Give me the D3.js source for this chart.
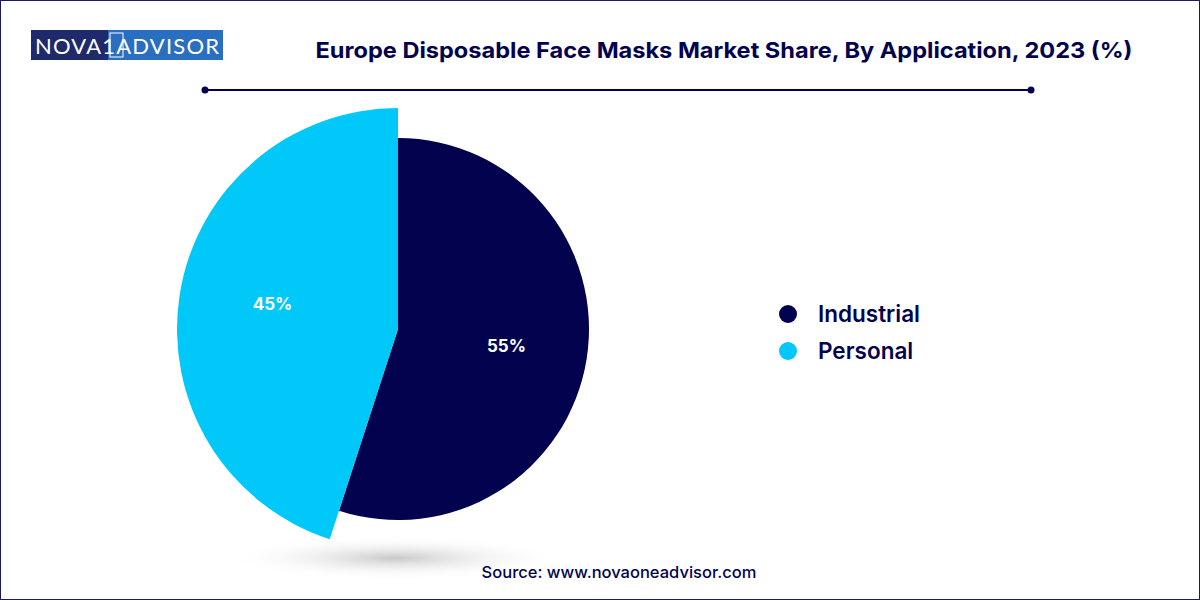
<!DOCTYPE html>
<html><head><meta charset="utf-8">
<script src="https://cdn.jsdelivr.net/npm/d3@7"></script>
<style>body{margin:0;background:#fff;font-family:Inter,"Open Sans",sans-serif}</style>
</head><body><svg id="chart"></svg>
<script>
const categories = ['Industrial', 'Personal'];
const shares = [55, 45];
const colors = ['#02024f', '#00c8f8'];

const svg = d3.select('#chart').attr('width', 1200).attr('height', 600);
svg.append('rect').attr('x', 0.5).attr('y', 0.5).attr('width', 1199).attr('height', 599)
  .attr('fill', '#fff').attr('stroke', '#1a1a5e');

// logo
const logo = svg.append('g').attr('transform', 'translate(31,30)');
logo.append('rect').attr('width', 77).attr('height', 30).attr('fill', '#1f2a6b');
logo.append('rect').attr('x', 77).attr('width', 115).attr('height', 30).attr('fill', '#2a6fbf');
logo.append('text').attr('x', 4).attr('y', 24).attr('fill', '#fff').attr('font-size', 22)
  .attr('font-family', 'Lato, sans-serif').attr('textLength', 184).text('NOVA1ADVISOR');
logo.append('rect').attr('x', 79).attr('y', 3).attr('width', 13).attr('height', 24).attr('fill', 'none').attr('stroke', '#fff').attr('stroke-width', 1);

// title
svg.append('text').attr('x', 724).attr('y', 58).attr('text-anchor', 'middle')
  .attr('font-size', 22).attr('font-weight', 700).attr('fill', '#02024f')
  .attr('textLength', 817).attr('lengthAdjust', 'spacingAndGlyphs')
  .text('Europe Disposable Face Masks Market Share, By Application, 2023 (%)');
svg.append('line').attr('x1', 205).attr('x2', 1031).attr('y1', 90).attr('y2', 90)
  .attr('stroke', '#02024f').attr('stroke-width', 2);
[205, 1031].forEach((x) => svg.append('circle').attr('cx', x).attr('cy', 90).attr('r', 3.5).attr('fill', '#02024f'));

// shadow
const defs = svg.append('defs');
const grad = defs.append('radialGradient').attr('id', 'sh');
grad.append('stop').attr('offset', '0%').attr('stop-color', '#bbb').attr('stop-opacity', 0.8);
grad.append('stop').attr('offset', '100%').attr('stop-color', '#fff').attr('stop-opacity', 0);
svg.append('ellipse').attr('cx', 395).attr('cy', 558).attr('rx', 170).attr('ry', 22).attr('fill', 'url(#sh)');

// pie
const cx = 398, cy = 329;
const pie = d3.pie().sort(null).value((d) => d);
const arcs = pie(shares);
const radii = [191, 221];
const g = svg.append('g').attr('transform', `translate(${cx},${cy})`);
g.selectAll('path').data(arcs).join('path')
  .attr('d', (d, i) => d3.arc().innerRadius(0).outerRadius(radii[i])(d))
  .attr('fill', (d, i) => colors[i]);
g.selectAll('text').data(arcs).join('text')
  .attr('transform', (d, i) => `translate(${d3.arc().innerRadius(0).outerRadius(radii[i] * 1.15).centroid(d)})`)
  .attr('text-anchor', 'middle').attr('dy', (d, i) => (i ? '0.05em' : '0.35em'))
  .attr('fill', '#fff').attr('font-size', 17).attr('font-weight', 700)
  .text((d) => d.data + '%');

// legend
const leg = svg.append('g').attr('transform', 'translate(788,314)');
categories.forEach((c, i) => {
  leg.append('circle').attr('cy', i * 37).attr('r', 9).attr('fill', colors[i]);
  leg.append('text').attr('x', 30).attr('y', i * 37).attr('dy', '0.35em')
    .attr('font-size', 22.5).attr('font-weight', 600).attr('fill', '#02024f').text(c);
});

svg.append('text').attr('x', 619).attr('y', 578).attr('text-anchor', 'middle')
  .attr('font-size', 16.5).attr('font-weight', 500).attr('fill', '#02024f').text('Source: www.novaoneadvisor.com');
</script></body></html>
